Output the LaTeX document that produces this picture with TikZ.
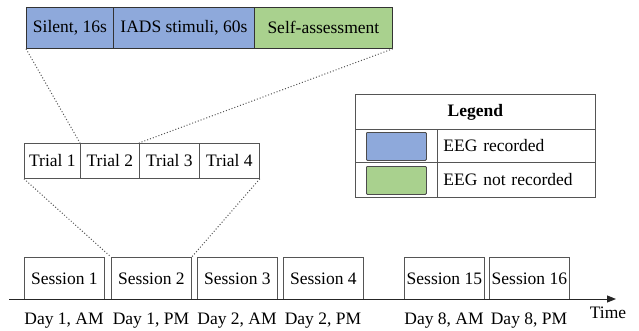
\documentclass[tikz,border=0pt]{standalone}
\usepackage{fontspec}
\setmainfont{Liberation Serif}
\usetikzlibrary{arrows.meta}
\definecolor{eegblue}{RGB}{142,169,219}
\definecolor{eeggreen}{RGB}{169,209,142}
\definecolor{linegray}{RGB}{85,85,85}
\begin{document}
\begin{tikzpicture}[x=1pt,y=-1pt,
  every node/.style={font=\fontsize{17.5}{19}\selectfont, inner sep=0pt},
  cell/.style={draw=linegray, line width=0.8pt, rectangle, anchor=north west},
  sess/.style={cell, minimum width=80pt, minimum height=42pt, text depth=0pt},
  trial/.style={cell, minimum height=35pt},
  bar/.style={cell, draw=black!80, minimum height=41pt},
  swatch/.style={rectangle, draw=black!70, line width=0.8pt, rounded corners=1pt, anchor=north west, minimum width=60pt, minimum height=28pt},
  zoomline/.style={draw=linegray, dotted, line width=1pt},
  lbl/.style={anchor=center}]
\useasboundingbox (0,0) rectangle (639,330);
\fill[white] (0,0) rectangle (639,330);
% top bar
\node[bar, fill=eegblue, minimum width=87pt] (b1) at (26,7) {Silent, 16s};
\node[bar, fill=eegblue, minimum width=141pt] (b2) at (113,7) {IADS stimuli, 60s};
\node[bar, fill=eeggreen, minimum width=138pt] (b3) at (254,7) {Self-assessment};
% trials
\node[trial, minimum width=56pt] (t1) at (24,143) {Trial 1};
\node[trial, minimum width=59pt] (t2) at (80,143) {Trial 2};
\node[trial, minimum width=60pt] (t3) at (139,143) {Trial 3};
\node[trial, minimum width=60pt] (t4) at (199,143) {Trial 4};
% sessions
\node[sess] (s1) at (24,257) {Session 1};
\node[sess] (s2) at (111,257) {Session 2};
\node[sess] (s3) at (197,257) {Session 3};
\node[sess] (s4) at (283,257) {Session 4};
\node[sess] (s15) at (404,257) {Session 15};
\node[sess] (s16) at (489,257) {Session 16};
% zoom lines
\draw[zoomline] (b1.south west) -- (t2.north west);
\draw[zoomline] (b3.south east) -- (t3.north west);
\draw[zoomline] (t1.south west) -- (s2.north west);
\draw[zoomline] (t4.south east) -- (s2.north east);
% axis
\coordinate (axs) at (9,299);
\coordinate (axe) at (616,299);
\draw[line width=1pt, black!85, -{Triangle[length=9pt,width=7pt]}] (axs) -- (axe);
\node[lbl] (time) at (608,313) {Time};
% day labels
\node[lbl] (d1) at (64,321) {Day 1, AM};
\node[lbl] (d2) at (151,321) {Day 1, PM};
\node[lbl] (d3) at (237,321) {Day 2, AM};
\node[lbl] (d4) at (323,321) {Day 2, PM};
\node[lbl] (d15) at (444,321) {Day 8, AM};
\node[lbl] (d16) at (529,321) {Day 8, PM};
% legend
\node[cell, minimum width=240pt, minimum height=35pt] (lh) at (355,94) {\bfseries Legend};
\node[cell, minimum width=82pt, minimum height=33pt] (lc1) at (355,129) {};
\node[cell, minimum width=158pt, minimum height=33pt, text width=146pt, align=left] (lt1) at (437,129) {EEG recorded};
\node[cell, minimum width=82pt, minimum height=35pt] (lc2) at (355,162) {};
\node[cell, minimum width=158pt, minimum height=35pt, text width=146pt, align=left] (lt2) at (437,162) {EEG not recorded};
\node[swatch, fill=eegblue] (sw1) at (366,132) {};
\node[swatch, fill=eeggreen] (sw2) at (366,166) {};
\end{tikzpicture}
\end{document}
